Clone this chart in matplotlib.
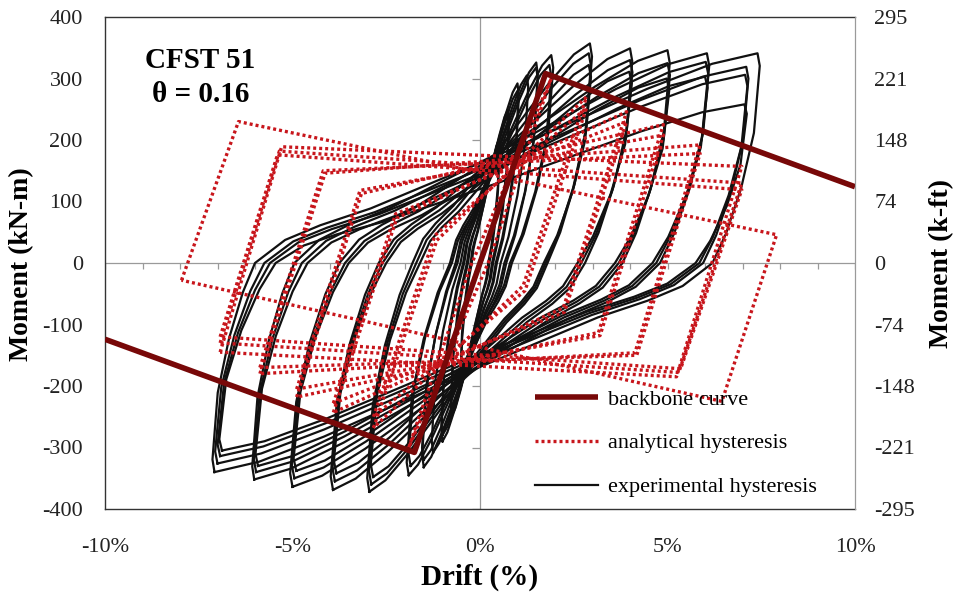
import matplotlib
matplotlib.use('Agg')
import matplotlib.pyplot as plt

plt.rcParams['font.family'] = ['Liberation Serif', 'DejaVu Serif']

# ---------------- data ----------------
# backbone curve (drift %, moment kN-m)
backbone_drift = [-10.0, -1.75, 1.75, 10.0]
backbone_moment = [-124, -308, 308, 124]

# experimental hysteresis: one entry per cycle
exp_amp_pos = [0.5, 0.5, 0.75, 0.75, 1.0, 1.0, 1.25, 1.5, 1.5, 1.9, 1.85,
               2.93, 2.9, 2.9, 4.0, 4.0, 3.98,
               5.0, 5.0, 4.98, 6.05, 6.02, 6.0, 7.4, 7.1, 7.07, 7.05]
exp_amp_neg = [-0.5, -0.5, -0.75, -0.75, -1.0, -1.0, -1.25, -1.5, -1.5,
               -1.9, -1.85, -2.95, -2.9, -2.85,
               -3.92, -3.87, -3.83, -5.0, -4.95, -4.9, -6.02, -5.97, -5.92,
               -7.08, -7.0, -6.93, -6.88]
exp_peak_pos = [190, 200, 240, 250, 280, 292, 305, 318, 326, 338, 322,
                357, 341, 322, 349, 330, 311,
                346, 325, 300, 341, 327, 303, 341, 319, 306, 258]
exp_peak_neg = [-185, -198, -235, -248, -280, -290, -308, -320, -332,
                -345, -330, -372, -360, -348, -369,
                -355, -342, -364, -350, -338, -352, -340, -330, -340, -326,
                -314, -305]
exp_zero_up = [-0.25, -0.22, -0.35, -0.32, -0.45, -0.42, -0.52, -0.6, -0.65,
               -0.8, -0.75, -1.8, -1.7, -1.6,
               -2.7, -2.6, -2.5, -3.75, -3.6, -3.5, -4.95, -4.75, -4.6,
               -6.0, -5.75, -5.6, -5.45]
exp_zero_down = [0.25, 0.22, 0.35, 0.32, 0.45, 0.42, 0.55, 0.65, 0.7,
                 0.85, 0.8, 1.8, 1.75, 1.7, 2.8,
                 2.7, 2.6, 3.8, 3.7, 3.6, 4.8, 4.7, 4.6, 6.2, 5.95, 5.85, 5.75]

# branch shape read from the outermost experimental loop
# loading branch: fraction of drift span (from zero crossing to peak) vs fraction of peak
load_s = [0, 0.06, 0.13, 0.23, 0.34, 0.47, 0.62, 0.78, 0.91, 1.0]
load_r = [0, 0.11, 0.18, 0.26, 0.37, 0.50, 0.66, 0.83, 0.95, 1.0]
# unloading branch: fraction of unloading drift vs fraction of peak
unload_d = [0, -0.05, 0.08, 0.36, 0.70, 1.0]
unload_r = [1.0, 0.94, 0.62, 0.36, 0.14, 0]

# analytical hysteresis: corner points of each cycle
ana_ll_x = [-1.0, -1.9, -2.84, -2.84, -3.91, -3.91, -4.89, -4.89, -5.87, -5.87, -6.93, -6.93, -6.93, -7.96]
ana_ll_y = [-175, -300, -268, -250, -243, -228, -218, -205, -180, -170, -145, -130, -120, -28]
ana_ul_x = [-0.05, -0.25, -1.15, -1.2, -2.22, -2.25, -3.16, -3.2, -4.13, -4.18, -5.29, -5.35, -5.4, -6.44]
ana_ul_y = [-5, -5, 37, 45, 73, 80, 113, 118, 146, 150, 189, 182, 176, 230]
ana_ur_x = [1.0, 1.9, 2.84, 2.84, 3.91, 3.91, 4.89, 4.89, 5.87, 5.87, 6.98, 6.98, 6.98, 7.91]
ana_ur_y = [175, 300, 270, 252, 246, 230, 225, 208, 192, 178, 157, 130, 119, 46]
ana_lr_x = [0.05, 0.25, 1.15, 1.2, 2.22, 2.25, 3.16, 3.2, 4.13, 4.18, 5.24, 5.3, 5.35, 6.45]
ana_lr_y = [5, 5, -37, -45, -73, -80, -113, -118, -146, -150, -185, -178, -172, -225]

x_ticks = [-10, -5, 0, 5, 10]
x_tick_labels = ['-10%', '-5%', '0%', '5%', '10%']
y_ticks = [400, 300, 200, 100, 0, -100, -200, -300, -400]
y_tick_labels = ['400', '300', '200', '100', '0', '-100', '-200', '-300', '-400']
y2_tick_labels = ['295', '221', '148', '74', '0', '-74', '-148', '-221', '-295']
minor_x = list(range(-10, 11))
minor_y = [400, 300, 200, 100, -100, -200, -300, -400]


def exp_loop(i):
    ap, an = exp_amp_pos[i], exp_amp_neg[i]
    P, N = exp_peak_pos[i], exp_peak_neg[i]
    u0, l0 = exp_zero_up[i], exp_zero_down[i]
    xs, ys = [], []
    for d, r in zip(unload_d, unload_r):
        xs.append(an + d * (u0 - an)); ys.append(r * N)
    for s, r in zip(load_s[1:], load_r[1:]):
        xs.append(u0 + s * (ap - u0)); ys.append(r * P)
    for d, r in zip(unload_d[1:], unload_r[1:]):
        xs.append(ap - d * (ap - l0)); ys.append(r * P)
    for s, r in zip(load_s[1:], load_r[1:]):
        xs.append(l0 - s * (l0 - an)); ys.append(r * N)
    return xs, ys


# ---------------- figure ----------------
fig = plt.figure(figsize=(9.57, 5.96), dpi=100)
ax = fig.add_axes([105 / 957, 1 - 509 / 596, 750 / 957, 492 / 596])

exp_color = '#111111'
ana_color = '#c8161c'
bb_color = '#780808'

for i in range(len(exp_amp_pos)):
    xs, ys = exp_loop(i)
    ax.plot(xs, ys, color=exp_color, lw=1.6, zorder=2,
            solid_joinstyle='round',
            label='experimental hysteresis' if i == 0 else None)

for i in range(len(ana_ll_x)):
    xs = [ana_ll_x[i], ana_ul_x[i], ana_ur_x[i], ana_lr_x[i], ana_ll_x[i]]
    ys = [ana_ll_y[i], ana_ul_y[i], ana_ur_y[i], ana_lr_y[i], ana_ll_y[i]]
    ax.plot(xs, ys, color=ana_color, lw=2.4, linestyle=(0, (0.9, 0.9)),
            zorder=3, label='analytical hysteresis' if i == 0 else None)

ax.plot(backbone_drift, backbone_moment, color=bb_color, lw=4.0, zorder=4,
        solid_capstyle='butt', label='backbone curve')

# zero axes with small ticks
ax.axhline(0, color='#9a9a9a', lw=0.9, zorder=1)
ax.axvline(0, color='#9a9a9a', lw=0.9, zorder=1)
ax.plot(minor_x, [0] * len(minor_x), linestyle='none', marker=3,
        markersize=4, color='#9a9a9a', mew=0.9, zorder=1)
ax.plot([0] * len(minor_y), minor_y, linestyle='none', marker=0,
        markersize=6, color='#9a9a9a', mew=0.9, zorder=1)

ax.set_xlim(-10, 10)
ax.set_ylim(-400, 400)
ax.set_xticks(x_ticks)
ax.set_xticklabels(x_tick_labels)
ax.set_yticks(y_ticks)
ax.set_yticklabels(y_tick_labels)
ax.tick_params(axis='both', length=0, labelsize=16, colors='#222222')
ax.tick_params(axis='x', pad=21)
ax.tick_params(axis='y', pad=16)
for side in ['left', 'bottom', 'top']:
    ax.spines[side].set_color('#333333')
    ax.spines[side].set_linewidth(1.0)
ax.spines['right'].set_color('#9a9a9a')

ax2 = ax.twinx()
ax2.set_ylim(-400, 400)
ax2.set_yticks(y_ticks)
ax2.set_yticklabels(y2_tick_labels)
ax2.tick_params(axis='y', length=0, labelsize=16, pad=14, colors='#222222')
for side in ['left', 'bottom', 'top']:
    ax2.spines[side].set_visible(False)
ax2.spines['right'].set_color('#9a9a9a')

ax.text(0.127, 0.912, 'CFST 51', transform=ax.transAxes, ha='center',
        va='center', fontsize=21, fontweight='bold')
ax.text(0.127, 0.842, '\u03b8 = 0.16', transform=ax.transAxes, ha='center',
        va='center', fontsize=21, fontweight='bold')

fig.text(22 / 957, 1 - 264 / 596, 'Moment (kN-m)', rotation=90, ha='center',
         va='center', fontsize=20, fontweight='bold')
fig.text(942 / 957, 1 - 264 / 596, 'Moment (k-ft)', rotation=90, ha='center',
         va='center', fontsize=20, fontweight='bold')
fig.text(480 / 957, 1 - 577 / 596, 'Drift (%)', ha='center', va='center',
         fontsize=21, fontweight='bold')

handles, labels = ax.get_legend_handles_labels()
order = [labels.index('backbone curve'), labels.index('analytical hysteresis'),
         labels.index('experimental hysteresis')]
leg = ax.legend([handles[k] for k in order], [labels[k] for k in order],
                loc='upper left', bbox_to_anchor=(0.561, 0.262),
                borderaxespad=0, frameon=False, fontsize=16,
                handlelength=2.85, handletextpad=0.45, labelspacing=1.05)
leg.set_zorder(5)

fig.savefig('out.png', dpi=100)
